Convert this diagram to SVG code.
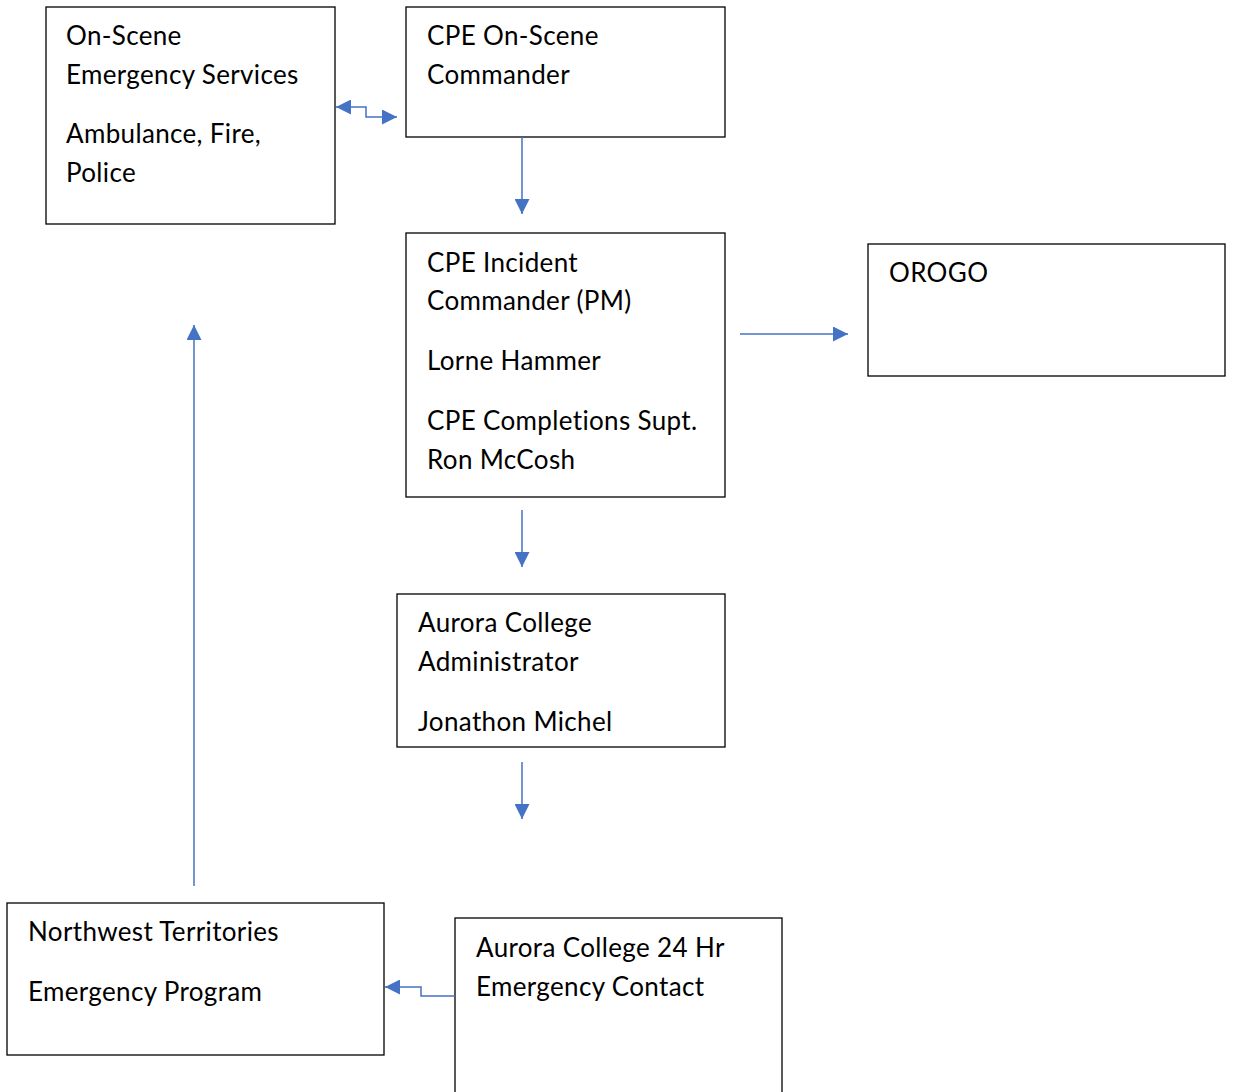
<svg xmlns="http://www.w3.org/2000/svg" width="1233" height="1092" viewBox="0 0 1233 1092">
<style>
.box{fill:#fff;stroke:#000;stroke-width:1.3}
.t{font-family:Lato,"Liberation Sans",sans-serif;font-size:26px;letter-spacing:0.35px;fill:#000}
.c{fill:none;stroke:#4472C4;stroke-width:1.5}
</style>
<defs>
<marker id="ah" viewBox="0 0 10 10" refX="10" refY="5" markerWidth="16" markerHeight="15" markerUnits="userSpaceOnUse" orient="auto-start-reverse">
<path d="M0,0 L10,5 L0,10 z" fill="#4472C4"/>
</marker>
</defs>
<rect width="1233" height="1092" fill="#fff"/>
<g id="n1"><rect class="box" x="46" y="7" width="289" height="217"/>
<text class="t" x="66" y="45">On-Scene</text><text class="t" x="66" y="84">Emergency Services</text><text class="t" x="66" y="143">Ambulance, Fire,</text><text class="t" x="66" y="182">Police</text></g>
<g id="n2"><rect class="box" x="406" y="7" width="319" height="130"/>
<text class="t" x="427" y="45">CPE On-Scene</text><text class="t" x="427" y="84">Commander</text></g>
<g id="n3"><rect class="box" x="406" y="233" width="319" height="264"/>
<text class="t" x="427" y="272">CPE Incident</text><text class="t" x="427" y="310">Commander (PM)</text><text class="t" x="427" y="370">Lorne Hammer</text><text class="t" x="427" y="430">CPE Completions Supt.</text><text class="t" x="427" y="469">Ron McCosh</text></g>
<g id="n4"><rect class="box" x="868" y="244" width="357" height="132"/>
<text class="t" x="889" y="282">OROGO</text></g>
<g id="n5"><rect class="box" x="397" y="594" width="328" height="153"/>
<text class="t" x="418" y="632">Aurora College</text><text class="t" x="418" y="671">Administrator</text><text class="t" x="418" y="731">Jonathon Michel</text></g>
<g id="n6"><rect class="box" x="7" y="903" width="377" height="152"/>
<text class="t" x="28" y="941">Northwest Territories</text><text class="t" x="28" y="1001">Emergency Program</text></g>
<g id="n7"><rect class="box" x="455" y="918" width="327" height="190"/>
<text class="t" x="476" y="957">Aurora College 24 Hr</text><text class="t" x="476" y="996">Emergency Contact</text></g>
<g id="connectors">
<path class="c" d="M336,107 H366 V117 H397" marker-start="url(#ah)" marker-end="url(#ah)"/>
<path class="c" d="M522,137 V214" marker-end="url(#ah)"/>
<path class="c" d="M740,334 H848" marker-end="url(#ah)"/>
<path class="c" d="M522,510 V567" marker-end="url(#ah)"/>
<path class="c" d="M522,762 V819" marker-end="url(#ah)"/>
<path class="c" d="M194,886 V325" marker-end="url(#ah)"/>
<path class="c" d="M455,996 H421 V987 H385" marker-end="url(#ah)"/>
</g>
</svg>
